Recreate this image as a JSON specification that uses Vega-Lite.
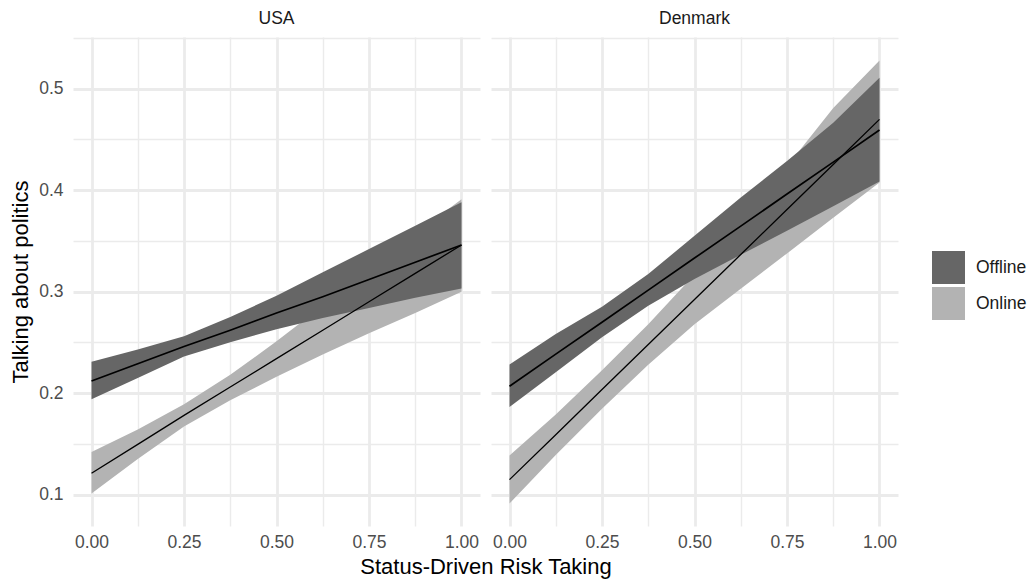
{
  "$schema": "https://vega.github.io/schema/vega-lite/v6.json",
  "padding": {"left": 9, "top": 9, "right": 5, "bottom": 2},
  "data": {"values": [
    {"country": "USA", "mode": "Offline", "x": 0, "fit": 0.212, "lo": 0.194, "hi": 0.231},
    {"country": "USA", "mode": "Offline", "x": 0.125, "fit": 0.229, "lo": 0.215, "hi": 0.243},
    {"country": "USA", "mode": "Offline", "x": 0.25, "fit": 0.246, "lo": 0.236, "hi": 0.256},
    {"country": "USA", "mode": "Offline", "x": 0.375, "fit": 0.262, "lo": 0.25, "hi": 0.275},
    {"country": "USA", "mode": "Offline", "x": 0.5, "fit": 0.279, "lo": 0.263, "hi": 0.296},
    {"country": "USA", "mode": "Offline", "x": 0.625, "fit": 0.295, "lo": 0.274, "hi": 0.319},
    {"country": "USA", "mode": "Offline", "x": 0.75, "fit": 0.312, "lo": 0.284, "hi": 0.342},
    {"country": "USA", "mode": "Offline", "x": 0.875, "fit": 0.329, "lo": 0.294, "hi": 0.365},
    {"country": "USA", "mode": "Offline", "x": 1, "fit": 0.346, "lo": 0.303, "hi": 0.388},
    {"country": "USA", "mode": "Online", "x": 0, "fit": 0.121, "lo": 0.101, "hi": 0.142},
    {"country": "USA", "mode": "Online", "x": 0.125, "fit": 0.1495, "lo": 0.135, "hi": 0.164},
    {"country": "USA", "mode": "Online", "x": 0.25, "fit": 0.178, "lo": 0.167, "hi": 0.189},
    {"country": "USA", "mode": "Online", "x": 0.375, "fit": 0.206, "lo": 0.193, "hi": 0.218},
    {"country": "USA", "mode": "Online", "x": 0.5, "fit": 0.234, "lo": 0.216, "hi": 0.251},
    {"country": "USA", "mode": "Online", "x": 0.625, "fit": 0.262, "lo": 0.238, "hi": 0.286},
    {"country": "USA", "mode": "Online", "x": 0.75, "fit": 0.29, "lo": 0.259, "hi": 0.321},
    {"country": "USA", "mode": "Online", "x": 0.875, "fit": 0.318, "lo": 0.279, "hi": 0.357},
    {"country": "USA", "mode": "Online", "x": 1, "fit": 0.346, "lo": 0.3, "hi": 0.391},
    {"country": "Denmark", "mode": "Offline", "x": 0, "fit": 0.2068, "lo": 0.1862, "hi": 0.2282},
    {"country": "Denmark", "mode": "Offline", "x": 0.125, "fit": 0.2384, "lo": 0.2206, "hi": 0.2583},
    {"country": "Denmark", "mode": "Offline", "x": 0.25, "fit": 0.2699, "lo": 0.255, "hi": 0.2852},
    {"country": "Denmark", "mode": "Offline", "x": 0.375, "fit": 0.3015, "lo": 0.2862, "hi": 0.3173},
    {"country": "Denmark", "mode": "Offline", "x": 0.5, "fit": 0.3331, "lo": 0.3124, "hi": 0.3551},
    {"country": "Denmark", "mode": "Offline", "x": 0.625, "fit": 0.3646, "lo": 0.3364, "hi": 0.3928},
    {"country": "Denmark", "mode": "Offline", "x": 0.75, "fit": 0.3962, "lo": 0.36, "hi": 0.4288},
    {"country": "Denmark", "mode": "Offline", "x": 0.875, "fit": 0.4277, "lo": 0.3842, "hi": 0.4666},
    {"country": "Denmark", "mode": "Offline", "x": 1, "fit": 0.4593, "lo": 0.4085, "hi": 0.5108},
    {"country": "Denmark", "mode": "Online", "x": 0, "fit": 0.1147, "lo": 0.0911, "hi": 0.1386},
    {"country": "Denmark", "mode": "Online", "x": 0.125, "fit": 0.159, "lo": 0.139, "hi": 0.179},
    {"country": "Denmark", "mode": "Online", "x": 0.25, "fit": 0.2035, "lo": 0.1845, "hi": 0.2225},
    {"country": "Denmark", "mode": "Online", "x": 0.375, "fit": 0.2479, "lo": 0.2279, "hi": 0.2679},
    {"country": "Denmark", "mode": "Online", "x": 0.5, "fit": 0.2923, "lo": 0.2678, "hi": 0.3168},
    {"country": "Denmark", "mode": "Online", "x": 0.625, "fit": 0.3366, "lo": 0.3029, "hi": 0.3703},
    {"country": "Denmark", "mode": "Online", "x": 0.75, "fit": 0.381, "lo": 0.3377, "hi": 0.4235},
    {"country": "Denmark", "mode": "Online", "x": 0.875, "fit": 0.4254, "lo": 0.3728, "hi": 0.481},
    {"country": "Denmark", "mode": "Online", "x": 1, "fit": 0.4698, "lo": 0.4075, "hi": 0.5279}
  ]},
  "facet": {
    "column": {
      "field": "country", "type": "nominal", "sort": ["USA", "Denmark"],
      "title": "Status-Driven Risk Taking",
      "header": {"labelOrient": "top", "titleOrient": "bottom"}
    }
  },
  "spacing": 11,
  "spec": {
    "width": 407,
    "height": 489,
    "encoding": {
      "x": {
        "field": "x", "type": "quantitative",
        "scale": {"domain": [-0.05, 1.05], "nice": false, "zero": false},
        "axis": {
          "title": null,
          "values": [0, 0.125, 0.25, 0.375, 0.5, 0.625, 0.75, 0.875, 1],
          "labelExpr": "(datum.value * 4) % 1 != 0 ? '' : format(datum.value, '.2f')",
          "gridWidth": {"condition": {"test": "(datum.value * 4) % 1 != 0", "value": 1.4}, "value": 2.8},
          "labelPadding": 7
        }
      }
    },
    "layer": [
      {
        "transform": [{"filter": "datum.mode == 'Online'"}],
        "mark": {"type": "area", "opacity": 1},
        "encoding": {
          "y": {
            "field": "lo", "type": "quantitative",
            "scale": {"domain": [0.069, 0.551], "nice": false, "zero": false},
            "axis": {
              "title": "Talking about politics",
              "values": [0.1, 0.15, 0.2, 0.25, 0.3, 0.35, 0.4, 0.45, 0.5, 0.55],
              "labelExpr": "abs(datum.value * 10 - round(datum.value * 10)) > 0.01 ? '' : format(datum.value, '.1f')",
              "gridWidth": {"condition": {"test": "abs(datum.value * 10 - round(datum.value * 10)) > 0.01", "value": 1.4}, "value": 2.8},
              "labelPadding": 10,
              "titlePadding": 6
            }
          },
          "y2": {"field": "hi"},
          "fill": {
            "field": "mode", "type": "nominal",
            "scale": {"domain": ["Offline", "Online"], "range": ["#666666", "#b3b3b3"]},
            "legend": {
              "orient": "none", "legendX": 858, "legendY": 213,
              "title": null, "symbolType": "square", "symbolSize": 1089,
              "symbolStrokeWidth": 0, "symbolOpacity": 1,
              "labelFontSize": 17.5, "labelColor": "#1a1a1a", "labelOffset": 10, "rowPadding": 2
            }
          }
        }
      },
      {
        "transform": [{"filter": "datum.mode == 'Offline'"}],
        "mark": {"type": "area", "opacity": 1},
        "encoding": {
          "y": {"field": "lo", "type": "quantitative"},
          "y2": {"field": "hi"},
          "fill": {"field": "mode", "type": "nominal"}
        }
      },
      {
        "mark": {"type": "line", "color": "#000000"},
        "encoding": {
          "y": {"field": "fit", "type": "quantitative"},
          "detail": {"field": "mode", "type": "nominal"},
          "strokeWidth": {
            "field": "mode", "type": "nominal",
            "scale": {"domain": ["Offline", "Online"], "range": [1.7, 1.3]},
            "legend": null
          }
        }
      }
    ]
  },
  "config": {
    "font": "Liberation Sans",
    "view": {"stroke": null},
    "axis": {
      "domain": false, "ticks": false, "tickSize": 0,
      "labelFontSize": 17.5, "labelColor": "#4d4d4d",
      "labelOverlap": false, "labelBound": false,
      "titleFontSize": 22, "titleColor": "#000000", "titleFontWeight": "normal",
      "gridColor": "#ebebeb"
    },
    "header": {
      "labelFontSize": 17.5, "labelColor": "#1a1a1a", "labelPadding": 10,
      "titleFontSize": 22, "titleColor": "#000000", "titleFontWeight": "normal", "titlePadding": -4
    }
  }
}
